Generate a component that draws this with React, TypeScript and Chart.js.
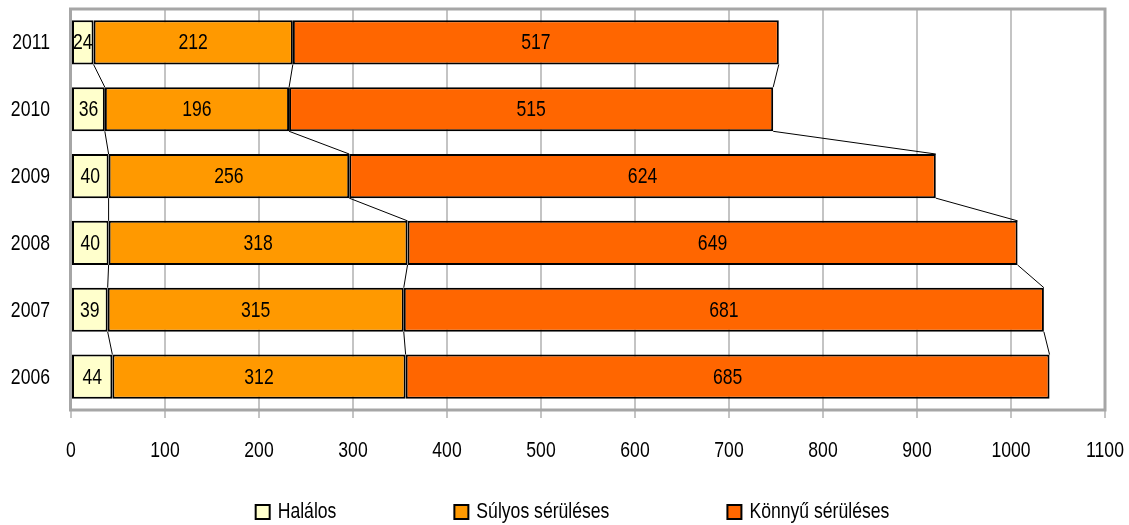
import React, { useEffect, useRef } from "react";
import { Chart, registerables } from "chart.js";

Chart.register(...registerables);

const categories = ["2011", "2010", "2009", "2008", "2007", "2006"];
const halalos = [24, 36, 40, 40, 39, 44];
const sulyos = [212, 196, 256, 318, 315, 312];
const konnyu = [517, 515, 624, 649, 681, 685];
const seriesNames = ["Halálos", "Súlyos sérüléses", "Könnyű sérüléses"];
const seriesColors = ["#FFFFCC", "#FF9900", "#FF6600"];
const xTickValues = [0, 100, 200, 300, 400, 500, 600, 700, 800, 900, 1000, 1100];
const xMax = 1100;
const xStep = 100;

const FONT = '"Liberation Sans", Arial, sans-serif';
const FONT_SIZE = 22;
const SQUEEZE = 0.8;

function narrowText(ctx: CanvasRenderingContext2D, text: string, x: number, y: number, align: CanvasTextAlign) {
  ctx.save();
  ctx.translate(x, y);
  ctx.scale(SQUEEZE, 1);
  ctx.textAlign = align;
  ctx.fillText(text, 0, 0);
  ctx.restore();
}

const customPlugin = {
  id: "customDraw",
  beforeDatasetsDraw(chart: any) {
    const ctx = chart.ctx;
    const area = chart.chartArea;
    ctx.save();
    ctx.strokeStyle = "#a6a6a6";
    ctx.lineWidth = 3;
    ctx.strokeRect(area.left - 0.5, area.top, area.right - area.left + 0.5, area.bottom - area.top);
    ctx.restore();
  },
  afterDatasetsDraw(chart: any) {
    const ctx = chart.ctx;
    ctx.save();
    // series lines
    ctx.strokeStyle = "#000";
    ctx.lineWidth = 1;
    chart.data.datasets.forEach((_: any, d: number) => {
      const meta = chart.getDatasetMeta(d);
      for (let i = 0; i < meta.data.length - 1; i++) {
        const a = meta.data[i] as any;
        const b = meta.data[i + 1] as any;
        ctx.beginPath();
        ctx.moveTo(a.x, a.y + a.height / 2);
        ctx.lineTo(b.x, b.y - b.height / 2);
        ctx.stroke();
      }
    });
    // data labels
    ctx.fillStyle = "#000";
    ctx.font = `${FONT_SIZE}px ${FONT}`;
    ctx.textBaseline = "middle";
    chart.data.datasets.forEach((ds: any, d: number) => {
      const meta = chart.getDatasetMeta(d);
      meta.data.forEach((el: any, i: number) => {
        const cx = (el.base + el.x) / 2;
        narrowText(ctx, String(ds.data[i]), cx, el.y + 1, "center");
      });
    });
    // axis tick labels
    const xs = chart.scales.x;
    const ys = chart.scales.y;
    xTickValues.forEach((v) => {
      narrowText(ctx, String(v), xs.getPixelForValue(v), 451, "center");
    });
    categories.forEach((c, i) => {
      narrowText(ctx, c, ys.left + ys.width - 21, ys.getPixelForTick(i) + 1, "right");
    });
    ctx.restore();
  },
  afterDraw(chart: any) {
    const ctx = chart.ctx;
    ctx.save();
    ctx.font = `${FONT_SIZE}px ${FONT}`;
    ctx.textBaseline = "middle";
    const box = 14;
    const boxGap = 8;
    const gap = 118;
    const widths = seriesNames.map((n) => box + boxGap + ctx.measureText(n).width * SQUEEZE);
    const total = widths.reduce((s, w) => s + w, 0) + gap * (widths.length - 1);
    let x = chart.width / 2 + 8 - total / 2;
    const y = 512;
    seriesNames.forEach((n, i) => {
      ctx.fillStyle = seriesColors[i];
      ctx.fillRect(x, y - box / 2, box, box);
      ctx.strokeStyle = "#000";
      ctx.lineWidth = 2;
      ctx.strokeRect(x, y - box / 2, box, box);
      ctx.fillStyle = "#000";
      narrowText(ctx, n, x + box + boxGap, y, "left");
      x += widths[i] + gap;
    });
    ctx.restore();
  },
};

export default function App() {
  const ref = useRef<HTMLCanvasElement>(null);
  useEffect(() => {
    document.body.style.margin = "0";
    const values = [halalos, sulyos, konnyu];
    const chart = new Chart(ref.current!, {
      type: "bar",
      data: {
        labels: categories,
        datasets: values.map((v, i) => ({
          label: seriesNames[i],
          data: v,
          backgroundColor: seriesColors[i],
          borderColor: "#000",
          borderWidth: 2,
          borderSkipped: false,
          categoryPercentage: 1,
          barPercentage: 0.66,
        })),
      },
      options: {
        indexAxis: "y",
        responsive: false,
        animation: false,
        layout: { padding: { top: 9, right: 24, left: 0, bottom: 0 } },
        plugins: { legend: { display: false }, tooltip: { enabled: false } },
        scales: {
          x: {
            stacked: true,
            min: 0,
            max: xMax,
            afterFit: (s: any) => {
              s.height = 115;
              s.paddingLeft = 0;
              s.paddingRight = 0;
            },
            ticks: { stepSize: xStep, display: false },
            grid: { color: "#c4c4c4", lineWidth: 2, tickLength: 8 },
            border: { display: false },
          },
          y: {
            stacked: true,
            afterFit: (s: any) => {
              s.width = 71;
              s.paddingTop = 0;
              s.paddingBottom = 0;
            },
            ticks: { display: false },
            grid: { display: false, drawTicks: false },
            border: { display: false },
          },
        },
      },
      plugins: [customPlugin],
    });
    return () => chart.destroy();
  }, []);
  return <canvas ref={ref} width={1129} height={525} style={{ display: "block" }} />;
}
